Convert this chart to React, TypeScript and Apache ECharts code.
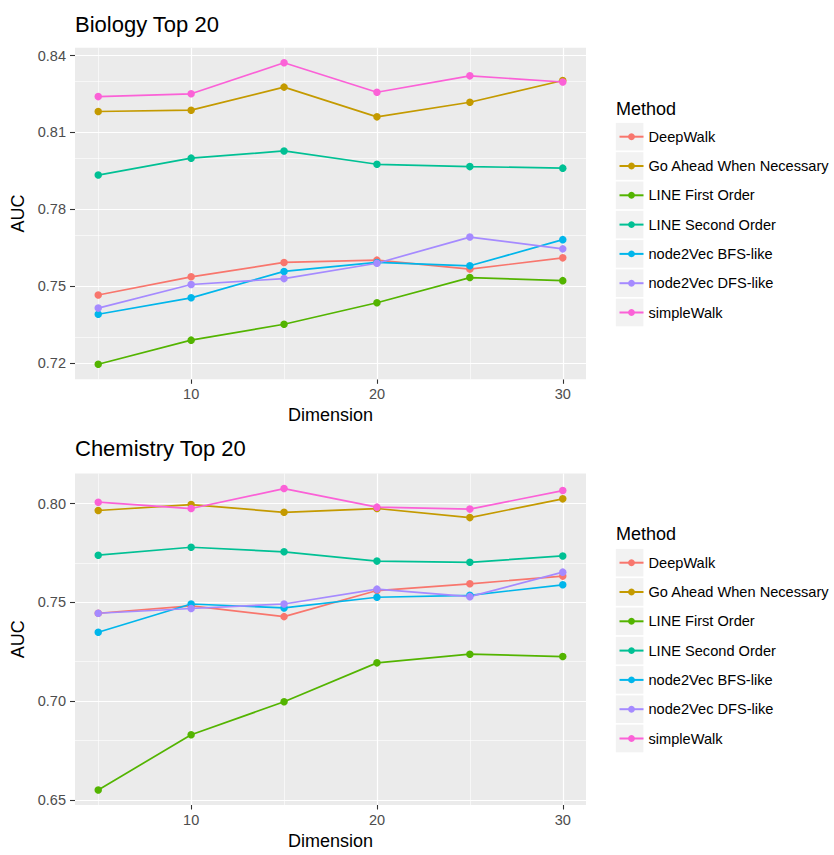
import React, { useEffect, useRef } from "react";
import * as echarts from "echarts";

const dims = [5, 10, 15, 20, 25, 30];
const methods = [
  "DeepWalk",
  "Go Ahead When Necessary",
  "LINE First Order",
  "LINE Second Order",
  "node2Vec BFS-like",
  "node2Vec DFS-like",
  "simpleWalk",
];
const colors = ["#F8766D", "#C49A00", "#53B400", "#00C094", "#00B6EB", "#A58AFF", "#FB61D7"];

// Biology Top 20
const bioDeepWalk = [0.7466, 0.7537, 0.7593, 0.7602, 0.7567, 0.7611];
const bioGoAhead = [0.8182, 0.8187, 0.8277, 0.8161, 0.8218, 0.8303];
const bioLineFirst = [0.7196, 0.729, 0.7352, 0.7436, 0.7534, 0.7522];
const bioLineSecond = [0.7934, 0.8, 0.8028, 0.7976, 0.7967, 0.7961];
const bioBFS = [0.7391, 0.7455, 0.7558, 0.7593, 0.758, 0.7682];
const bioDFS = [0.7415, 0.7507, 0.753, 0.759, 0.7692, 0.7646];
const bioSimpleWalk = [0.824, 0.8251, 0.8372, 0.8257, 0.8321, 0.8297];

// Chemistry Top 20
const chemDeepWalk = [0.7445, 0.7482, 0.7428, 0.756, 0.7594, 0.7633];
const chemGoAhead = [0.7965, 0.7995, 0.7956, 0.7975, 0.7929, 0.8024];
const chemLineFirst = [0.6551, 0.683, 0.6997, 0.7194, 0.7238, 0.7226];
const chemLineSecond = [0.7739, 0.7779, 0.7756, 0.7709, 0.7703, 0.7735];
const chemBFS = [0.7349, 0.7492, 0.7472, 0.7526, 0.7536, 0.7589];
const chemDFS = [0.7445, 0.7469, 0.7492, 0.7567, 0.7529, 0.7653];
const chemSimpleWalk = [0.8007, 0.7975, 0.8076, 0.7982, 0.7972, 0.8066];

const xTicks = [10, 20, 30];
const xMinor = [5, 15, 25];
const bioYTicks = [0.72, 0.75, 0.78, 0.81, 0.84];
const chemYTicks = [0.65, 0.7, 0.75, 0.8];

const bioSeries = [bioDeepWalk, bioGoAhead, bioLineFirst, bioLineSecond, bioBFS, bioDFS, bioSimpleWalk];
const chemSeries = [chemDeepWalk, chemGoAhead, chemLineFirst, chemLineSecond, chemBFS, chemDFS, chemSimpleWalk];

const FONT = "Liberation Sans";

function expand(vals: number[]) {
  const mn = Math.min(...vals);
  const mx = Math.max(...vals);
  const r = mx - mn;
  return [mn - 0.05 * r, mx + 0.05 * r];
}

function minorOf(ticks: number[], lo: number, hi: number) {
  const step = ticks[1] - ticks[0];
  const out: number[] = [];
  for (let i = -1; i < ticks.length; i++) {
    const v = ticks[0] + step * (i + 0.5);
    if (v > lo && v < hi) out.push(v);
  }
  return out;
}

export default function App() {
  const ref = useRef<HTMLDivElement>(null);
  useEffect(() => {
    if (!ref.current) return;
    const chart = echarts.init(ref.current, null, { renderer: "svg" });

    const panels = [
      { title: "Biology Top 20", data: bioSeries, yTicks: bioYTicks, top: 47.7, height: 331.6, titleTop: 13, methodTop: 100, legendRow0: 136.7 },
      { title: "Chemistry Top 20", data: chemSeries, yTicks: chemYTicks, top: 473.5, height: 331.5, titleTop: 437.5, methodTop: 525, legendRow0: 562.7 },
    ];
    const rowH = 29.3;
    const [xMin, xMax] = expand(dims);

    const grids: any[] = [];
    const xAxes: any[] = [];
    const yAxes: any[] = [];
    const series: any[] = [];
    const titles: any[] = [];
    const legends: any[] = [];
    const graphics: any[] = [];

    panels.forEach((p, pi) => {
      const all = p.data.flat();
      const [yMin, yMax] = expand(all);
      grids.push({
        left: 75,
        right: 248,
        top: p.top,
        height: p.height,
        show: true,
        backgroundColor: "#EBEBEB",
        borderWidth: 0,
      });
      xAxes.push({
        gridIndex: pi,
        type: "value",
        min: xMin,
        max: xMax,
        name: "Dimension",
        nameLocation: "middle",
        nameGap: 27,
        nameTextStyle: { fontSize: 18, color: "#000", fontFamily: FONT, lineHeight: 18 },
        axisLine: { show: false },
        splitLine: { show: false },
        axisTick: { show: true, customValues: xTicks, length: 4.5, lineStyle: { color: "#333", width: 1.1 } },
        axisLabel: { customValues: xTicks, margin: 7, fontSize: 14.5, color: "#4D4D4D", fontFamily: FONT, lineHeight: 15 },
      });
      yAxes.push({
        gridIndex: pi,
        type: "value",
        min: yMin,
        max: yMax,
        name: "AUC",
        nameLocation: "middle",
        nameRotate: 90,
        nameGap: 41,
        nameTextStyle: { fontSize: 18, color: "#000", fontFamily: FONT, lineHeight: 18 },
        axisLine: { show: false },
        splitLine: { show: false },
        axisTick: { show: true, customValues: p.yTicks, length: 5, lineStyle: { color: "#333", width: 1.1 } },
        axisLabel: {
          customValues: p.yTicks,
          margin: 9,
          fontSize: 14.5,
          color: "#4D4D4D",
          fontFamily: FONT,
          formatter: (v: number) => v.toFixed(2),
        },
      });

      const yMinor = minorOf(p.yTicks, yMin, yMax);
      const gridLines: any[] = [];
      yMinor.forEach((v) => gridLines.push({ yAxis: v, lineStyle: { width: 0.6 } }));
      xMinor.forEach((v) => gridLines.push({ xAxis: v, lineStyle: { width: 0.6 } }));
      p.yTicks.forEach((v) => gridLines.push({ yAxis: v, lineStyle: { width: 1.2 } }));
      xTicks.forEach((v) => gridLines.push({ xAxis: v, lineStyle: { width: 1.2 } }));

      methods.forEach((m, mi) => {
        const s: any = {
          type: "line",
          name: m,
          xAxisIndex: pi,
          yAxisIndex: pi,
          data: dims.map((d, i) => [d, p.data[mi][i]]),
          symbol: "circle",
          symbolSize: 7.5,
          showSymbol: true,
          color: colors[mi],
          lineStyle: { width: 1.7, color: colors[mi] },
          itemStyle: { color: colors[mi] },
          emphasis: { disabled: true },
          z: 3,
        };
        if (mi === 0) {
          s.markLine = {
            silent: true,
            symbol: ["none", "none"],
            z: 1,
            label: { show: false },
            emphasis: { disabled: true },
            lineStyle: { color: "#FFFFFF", type: "solid" },
            data: gridLines,
          };
        }
        series.push(s);
      });

      titles.push({
        text: p.title,
        left: 75,
        top: p.titleTop,
        padding: 0,
        textStyle: { fontSize: 22, fontWeight: "normal", color: "#000", fontFamily: FONT, lineHeight: 22 },
      });
      titles.push({
        text: "Method",
        left: 616,
        top: p.methodTop,
        padding: 0,
        textStyle: { fontSize: 18, fontWeight: "normal", color: "#000", fontFamily: FONT, lineHeight: 18 },
      });
      legends.push({
        data: methods,
        orient: "vertical",
        left: 618.5,
        top: p.legendRow0 - rowH / 2,
        padding: 0,
        itemGap: 0,
        itemWidth: 24,
        itemHeight: 8.5,
        selectedMode: false,
        textStyle: { fontSize: 14.6, color: "#000", fontFamily: FONT, lineHeight: rowH },
      });
      methods.forEach((m, mi) => {
        const cy = p.legendRow0 + rowH * mi;
        graphics.push({
          type: "rect",
          left: 615.8,
          top: cy - 13.8,
          shape: { width: 27.6, height: 27.6 },
          style: { fill: "#F2F2F2" },
          silent: true,
          z: 0,
        });
      });
    });

    chart.setOption({
      animation: false,
      textStyle: { fontFamily: FONT },
      title: titles,
      legend: legends,
      grid: grids,
      xAxis: xAxes,
      yAxis: yAxes,
      series,
      graphic: graphics,
    });
    return () => chart.dispose();
  }, []);
  return <div ref={ref} style={{ position: "absolute", left: 0, top: 0, width: 834, height: 855 }} />;
}
